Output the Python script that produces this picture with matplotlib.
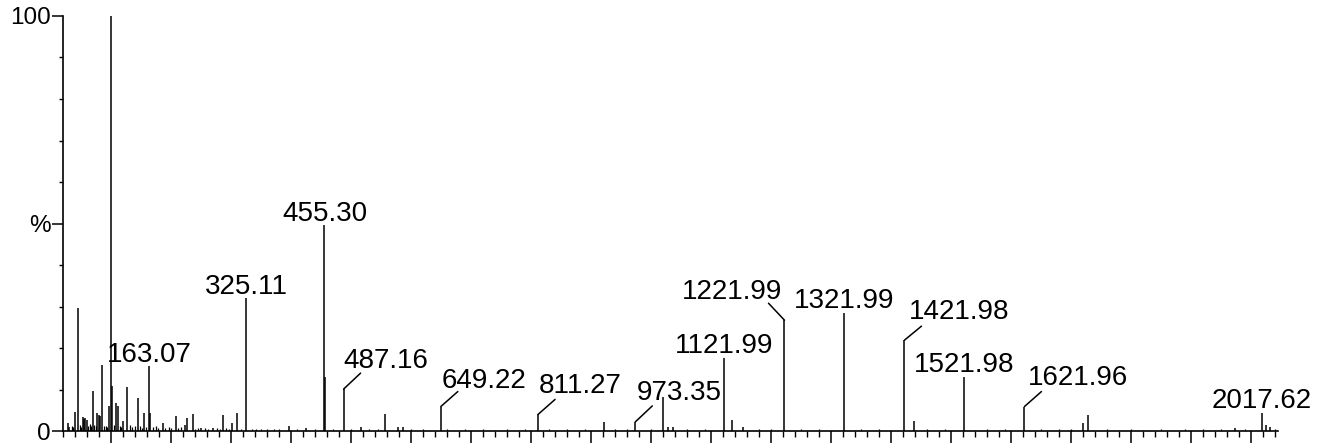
import numpy as np
import matplotlib.pyplot as plt
from matplotlib.ticker import MultipleLocator, FixedLocator

plt.rcParams['font.family'] = ['Liberation Sans', 'DejaVu Sans']

# main peaks (m/z, relative intensity %)
peak_mz = [28, 30, 39.5, 44, 53, 55, 57, 59, 69, 77, 79, 81, 85, 96.7, 99.5,
           101.7, 107.8, 110.6, 120, 125.7, 144, 154.5, 163.07, 164.5, 185.6,
           207.8, 222.8, 227, 235.7, 250, 270, 286.7, 302, 309, 325.11, 396,
           424.5, 455.30, 456.3, 487.16, 517, 556, 578, 586, 649.22, 811.27,
           921, 973.35, 1020, 1028, 1035.6, 1121.99, 1134, 1153, 1221.99,
           1321.99, 1421.98, 1438.5, 1521.98, 1621.96, 1720, 1727.3, 1973,
           2017.62, 2024, 2032]
peak_int = [2.0, 1.0, 4.7, 29.6, 3.4, 3.0, 3.2, 2.6, 9.6, 4.4, 3.8, 3.5, 15.9, 6.0, 100,
            10.8, 6.8, 6.0, 2.3, 10.7, 7.9, 4.4, 15.7, 4.3, 1.9,
            3.7, 1.5, 3.1, 4.1, 0.8, 0.8, 3.9, 1.9, 4.4, 32.0, 1.2,
            0.8, 49.6, 13.0, 10.1, 1.0, 4.1, 1.0, 1.0, 5.9, 4.0,
            2.1, 2.2, 8.2, 1.0, 1.0, 17.5, 2.6, 1.0, 26.7,
            28.4, 21.9, 2.3, 13.1, 5.9, 1.9, 3.9, 0.8,
            4.3, 1.5, 1.0]

# low baseline grass
grass_mz = [34, 36, 48, 50, 62, 64, 66, 72, 74, 88, 91, 93, 104, 114, 117, 131,
            134, 139, 148, 151, 158, 170, 174, 178, 190, 196, 200, 212, 216, 240,
            244, 256, 262, 276, 281, 292, 296, 316, 334, 342, 350, 360, 372, 380,
            410, 440, 470, 500, 530, 545, 600, 620, 660, 690, 720, 760, 790, 830,
            860, 890, 940, 960, 1000, 1060, 1090, 1180, 1200, 1250, 1280, 1350,
            1380, 1460, 1490, 1560, 1590, 1650, 1680, 1700, 1760, 1800, 1850,
            1890, 1920, 1950, 1990, 2040]
grass_int = [1.2, 0.9, 1.5, 1.0, 1.3, 1.6, 1.1, 1.4, 1.2, 1.3, 1.1, 1.0, 1.5, 1.2, 1.0, 1.4,
             0.9, 1.1, 1.3, 0.8, 1.0, 0.9, 1.2, 0.8, 0.7, 0.9, 0.8, 0.7, 0.9, 0.6,
             0.8, 0.7, 0.6, 0.8, 0.6, 0.7, 0.6, 0.6, 0.5, 0.6, 0.5, 0.6, 0.5, 0.6,
             0.5, 0.5, 0.5, 0.6, 0.5, 0.6, 0.5, 0.4, 0.5, 0.4, 0.5, 0.4, 0.5, 0.4,
             0.5, 0.4, 0.5, 0.4, 0.5, 0.4, 0.5, 0.4, 0.5, 0.4, 0.5, 0.4,
             0.5, 0.4, 0.5, 0.4, 0.5, 0.4, 0.5, 0.4, 0.4, 0.5, 0.4,
             0.5, 0.4, 0.5, 0.6, 0.4]

# labelled peaks
label_mz = [163.07, 325.11, 455.30, 487.16, 649.22, 811.27, 973.35, 1121.99,
            1221.99, 1321.99, 1421.98, 1521.98, 1621.96, 2017.62]
label_text = ['163.07', '325.11', '455.30', '487.16', '649.22', '811.27', '973.35',
              '1121.99', '1221.99', '1321.99', '1421.98', '1521.98', '1621.96',
              '2017.62']

# label layout: text offset (px), alignment, leader end (px) or None
label_off = [(0, 4), (0, 4), (0, 4), (0, 21), (1, 19), (1, 21), (1, 22), (0, 5),
             (-2, 21), (0, 5), (4, 21), (0, 5), (3, 22), (0, 5)]
label_ha = ['center', 'center', 'center', 'left', 'left', 'left', 'left', 'center',
            'right', 'center', 'left', 'center', 'left', 'center']
leader = [None, None, None, (17, 16), (17, 15), (17, 15), (17, 16), None,
          (-16, 17), None, (17, 14), None, (17, 15), None]

fig = plt.figure(figsize=(13.27, 4.48), dpi=100)
ax = fig.add_axes([0.0477, 0.0379, 0.9156, 0.9264])

ax.vlines(grass_mz, 0, grass_int, color='black', lw=0.9)
ax.vlines(peak_mz, 0, peak_int, color='black', lw=1.1)

for mz, txt, off, ha, ld in zip(label_mz, label_text, label_off, label_ha, leader):
    h = peak_int[peak_mz.index(mz)]
    if ld is not None:
        ax.annotate('', xy=(mz, h), xytext=ld, textcoords='offset pixels',
                    arrowprops=dict(arrowstyle='-', lw=1.1, color='black',
                                    shrinkA=0, shrinkB=0), annotation_clip=False)
    ax.annotate(txt, xy=(mz, h), xytext=off, textcoords='offset pixels',
                ha=ha, va='baseline', fontsize=20, color='black',
                annotation_clip=False)

ax.set_xlim(20, 2045)
ax.set_ylim(0, 100)

for s in ['top', 'right']:
    ax.spines[s].set_visible(False)
ax.spines['left'].set_linewidth(1.2)
ax.spines['bottom'].set_linewidth(1.2)

ax.xaxis.set_major_locator(FixedLocator(np.arange(100, 2001, 100)))
ax.xaxis.set_minor_locator(MultipleLocator(20))
ax.tick_params(axis='x', which='major', direction='out', length=8.6, width=1.1,
               labelbottom=False)
ax.tick_params(axis='x', which='minor', direction='out', length=4, width=1.0)

ax.set_yticks([0, 50, 100])
ax.set_yticklabels(['0', '%', '100'])
ax.yaxis.set_minor_locator(MultipleLocator(10))
ax.tick_params(axis='y', which='major', direction='out', length=8, width=1.1,
               labelsize=17.5, pad=1)
ax.tick_params(axis='y', which='minor', direction='out', length=3.2, width=1.0)

fig.savefig('out.png', dpi=100)
